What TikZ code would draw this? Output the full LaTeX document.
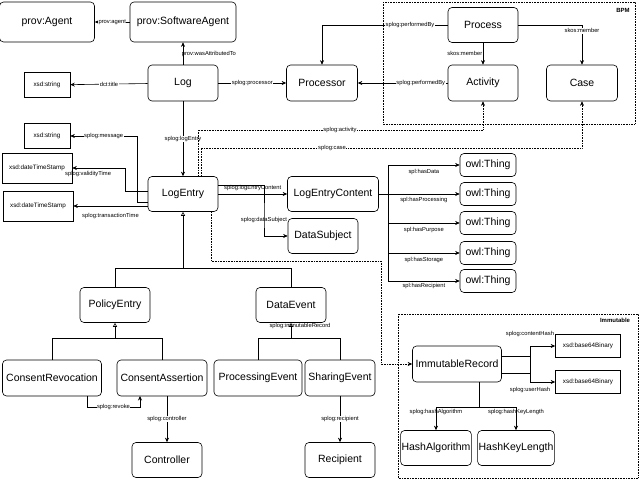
\documentclass[tikz,border=0pt]{standalone}
\usepackage{fontspec}
\setmainfont{Liberation Sans}
\usetikzlibrary{arrows.meta}
\tikzset{
	cls/.style={draw,rounded corners=4pt,inner sep=1pt,font=\fontsize{10.5}{12}\selectfont},
	lit/.style={draw,inner sep=1pt,font=\fontsize{6.3}{7}\selectfont},
	lbl/.style={fill=white,inner sep=0.5pt,font=\fontsize{5.8}{6.5}\selectfont},
	rel/.style={-{Stealth[length=4.5pt,width=4pt]}},
	inh/.style={-{Triangle[open,length=4pt,width=4pt]}},
	dot/.style={rel,densely dotted},
	grp/.style={draw,densely dotted}
}
\begin{document}
\begin{tikzpicture}[x=1pt,y=-1pt,semithick]
		\useasboundingbox (0,0) rectangle (640,479);
		
		\draw[grp] (383,2) rectangle (635,124);
		\node[font=\fontsize{6}{7}\selectfont\bfseries] at (623,10){BPM};
		\draw[grp] (398,314) rectangle (638,478);
		\node[font=\fontsize{6}{7}\selectfont\bfseries] at (615,320){Immutable};
		
		\node[cls,minimum width=95,minimum height=40] (agent) at (47,22){prov:Agent};
		\node[cls,minimum width=106,minimum height=40] (swagent) at (183,22){prov:SoftwareAgent};
		\node[lit,minimum width=46,minimum height=25] (str1) at (47,85){xsd:string};
		\node[cls,minimum width=70,minimum height=36] (log) at (183,83){Log};
		\node[cls,minimum width=71,minimum height=36] (processor) at (322,83){Processor};
		\node[cls,minimum width=70,minimum height=35] (process) at (483,25){Process};
		\node[cls,minimum width=70,minimum height=36] (activity) at (483,83){Activity};
		\node[cls,minimum width=71,minimum height=36] (case) at (582,83){Case};
		
		\node[lit,minimum width=46,minimum height=25] (str2) at (47,136){xsd:string};
		\node[lit,minimum width=70,minimum height=30] (dts1) at (37,168){xsd:dateTimeStamp};
		\node[lit,minimum width=70,minimum height=30] (dts2) at (38,206){xsd:dateTimeStamp};
		\node[cls,minimum width=70,minimum height=35] (entry) at (183,194){LogEntry};
		\node[cls,minimum width=91,minimum height=35] (content) at (333,194){LogEntryContent};
		\node[cls,minimum width=70,minimum height=35] (subject) at (323,236){DataSubject};
		
		\node[cls,minimum width=56,minimum height=23] (thing1) at (488,165){owl:Thing};
		\node[cls,minimum width=56,minimum height=23] (thing2) at (488,194){owl:Thing};
		\node[cls,minimum width=56,minimum height=23] (thing3) at (488,223){owl:Thing};
		\node[cls,minimum width=56,minimum height=23] (thing4) at (488,253){owl:Thing};
		\node[cls,minimum width=56,minimum height=23] (thing5) at (488,281){owl:Thing};
		
		\node[cls,minimum width=70,minimum height=35] (policy) at (115,305){PolicyEntry};
		\node[cls,minimum width=70,minimum height=35] (dataevent) at (291,305){DataEvent};
		\node[cls,minimum width=99,minimum height=36] (revocation) at (52,378){ConsentRevocation};
		\node[cls,minimum width=90,minimum height=36] (assertion) at (162,378){ConsentAssertion};
		\node[cls,minimum width=88,minimum height=36] (processing) at (258,378){ProcessingEvent};
		\node[cls,minimum width=70,minimum height=36] (sharing) at (340,378){SharingEvent};
		\node[cls,minimum width=70,minimum height=35] (controller) at (167,460){Controller};
		\node[cls,minimum width=70,minimum height=35] (recipient) at (340,460){Recipient};
		
		\node[cls,minimum width=89,minimum height=36] (record) at (457,364){ImmutableRecord};
		\node[lit,minimum width=65,minimum height=23] (bin1) at (588,346){xsd:base64Binary};
		\node[lit,minimum width=65,minimum height=23] (bin2) at (588,382){xsd:base64Binary};
		\node[cls,minimum width=69,minimum height=35] (hashalg) at (436,448){HashAlgorithm};
		\node[cls,minimum width=70,minimum height=35] (hashlen) at (516,448){HashKeyLength};
		
		\draw[rel] (log) -- node[lbl,right=-2pt,fill=none]{prov:wasAttributedTo} (swagent);
		\draw[rel] (swagent) -- node[lbl]{prov:agent} (agent);
		\draw[rel] (log) -- node[lbl]{dct:title} (str1);
		\draw[rel] (log) -- node[lbl]{splog:processor} (processor);
		\draw[rel] (process.west) -- node[lbl,pos=0.3]{splog:performedBy} (322,25) -- (processor.north);
		\draw[rel] (activity) -- node[lbl,pos=0.3]{splog:performedBy} (processor);
		\draw[rel] (process) -- node[lbl,left,fill=none]{skos:member} (activity);
		\draw[rel] (process.east) -| node[lbl,pos=0.55,below=-1pt]{skos:member} (case.north);
		\draw[rel] (log) -- node[lbl]{splog:logEntry} (entry);
		
		\draw[rel] ([yshift=-8pt]entry.west) -| (137,136) -- node[lbl]{splog:message} (str2);
		\draw[rel] ([yshift=3pt]entry.west) -| (125,168) -- node[lbl,pos=0.7,below=2pt,fill=none]{splog:validityTime} (dts1);
		\draw[rel] (entry.west|-dts2) -- node[lbl,below=6pt,fill=none]{splog:transactionTime} (dts2);
		\draw[rel] (entry) -- node[lbl,above=2pt,fill=none]{splog:logEntryContent} (content);
		\draw[rel] ([yshift=9pt]entry.east) -| (264,220) node[lbl,fill=none]{splog:dataSubject} |- (subject);
		
		\draw[dot] (198,177) |- (340,130) node[lbl]{splog:activity} -| (activity.south);
		\draw[dot] (201,177) |- (332,148) node[lbl]{splog:case} -| (case.south);
		\draw[dot] (211,212) |- (381,261) |- (record.west);
		\node[lbl,fill=none] at (300,326){splog:immutableRecord};
		
		\draw (content.east) -- (388,194);
		\draw[rel] (388,194) |- node[lbl,pos=0.75,below=3pt,fill=none]{spl:hasData} (thing1);
		\draw[rel] (388,194) -- node[lbl,pos=0.5,below=2pt,fill=none]{spl:hasProcessing} (thing2);
		\draw[rel] (388,194) |- node[lbl,pos=0.75,below=3pt,fill=none]{spl:hasPurpose} (thing3);
		\draw[rel] (388,194) |- node[lbl,pos=0.75,below=3pt,fill=none]{spl:hasStorage} (thing4);
		\draw[rel] (388,194) |- node[lbl,pos=0.75,below=1pt,fill=none]{spl:hasRecipient} (thing5);
		
		\draw[inh] (policy.north) |- (183,268) -- (entry.south);
		\draw (dataevent.north) |- (183,268);
		\draw[inh] (revocation.north) |- (115,338) -- (policy.south);
		\draw (assertion.north) |- (115,338);
		\draw[inh] (processing.north) |- (291,338) -- (dataevent.south);
		\draw (sharing.north) |- (291,338);
		
		\draw[rel] (87,396) |- node[lbl,pos=0.75]{splog:revoke} (140,407) -- (140,396);
		\draw[rel] (assertion.south-|controller) -- node[lbl]{splog:controller} (controller);
		\draw[rel] (sharing) -- node[lbl]{splog:recipient} (recipient);
		
		\draw[rel] ([yshift=-9pt]record.east) -| (530,346) node[lbl,above=9pt,fill=none]{splog:contentHash} -- (bin1);
		\draw[rel] ([yshift=8pt]record.east) -| (530,382) node[lbl,below=4pt,fill=none]{splog:userHash} -- (bin2);
		\draw (479,382) -- (479,407);
		\draw[rel] (479,407) -| node[lbl,pos=0.75,above=3pt,fill=none]{splog:hashAlgorithm} (hashalg.north);
		\draw[rel] (479,407) -| node[lbl,pos=0.75,above=3pt,fill=none]{splog:hashKeyLength} (hashlen.north);
	\end{tikzpicture}
\end{document}
